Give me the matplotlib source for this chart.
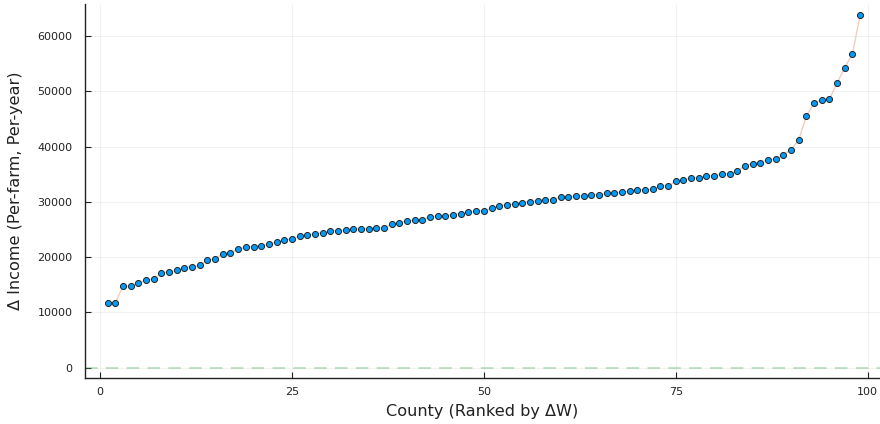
import numpy as np
import matplotlib
matplotlib.use("Agg")
import matplotlib.pyplot as plt

# income change per county, sorted ascending
rank = np.arange(1, 100)
delta_income = [
    11700, 11750, 14700, 14800, 15400, 15900, 16000, 17100, 17350, 17650,
    18100, 18300, 18550, 19450, 19600, 20650, 20800, 21450, 21800, 21870,
    22100, 22350, 22700, 23100, 23350, 23850, 24030, 24150, 24450, 24750,
    24810, 24870, 25050, 25110, 25170, 25230, 25290, 25950, 26260, 26500,
    26680, 26800, 27340, 27400, 27460, 27700, 27880, 28200, 28300, 28420,
    28850, 29270, 29500, 29570, 29870, 30050, 30170, 30350, 30410, 30900,
    30950, 31020, 31080, 31260, 31310, 31560, 31670, 31740, 31920, 32100,
    32160, 32280, 32830, 32880, 33700, 33970, 34330, 34390, 34630, 34750,
    34990, 35050, 35530, 36550, 36910, 37100, 37640, 37700, 38540, 39390,
    41130, 45470, 47820, 48420, 48540, 51490, 54260, 56730, 63720,
]
xticks = [0, 25, 50, 75, 100]
yticks = [0, 10000, 20000, 30000, 40000, 50000, 60000]

fig = plt.figure(figsize=(8.8, 4.24), dpi=100)
ax = fig.add_axes([85 / 880, 1 - 378 / 424, 795 / 880, 374 / 424])

ax.plot(rank, delta_income, color="#e26f46", alpha=0.35, lw=1, zorder=2)
ax.scatter(rank, delta_income, s=19, color="#009af9", edgecolors="#222222",
           linewidths=0.7, zorder=3)
ax.axhline(0, color="#3da44d", ls=(0, (6, 4)), lw=1.5, alpha=0.3, zorder=1)

ax.set_xlim(-1.95, 101.6)
ax.set_ylim(-1860, 65780)
ax.set_xticks(xticks)
ax.set_yticks(yticks)
ax.grid(True, color="#000000", alpha=0.05, lw=0.8)
ax.set_axisbelow(True)
ax.tick_params(direction="in", length=4, width=0.8, labelsize=8,
               labelcolor="#222222", color="#222222")
ax.tick_params(axis="y", pad=9)
ax.tick_params(axis="x", pad=6.5)
for side in ["top", "right"]:
    ax.spines[side].set_visible(False)
for side in ["left", "bottom"]:
    ax.spines[side].set_linewidth(1)
    ax.spines[side].set_color("#222222")

ax.set_xlabel("County (Ranked by ΔW)", fontsize=11.6, color="#222222")
ax.set_ylabel("Δ Income (Per-farm, Per-year)", fontsize=11.6, color="#222222")
ax.xaxis.set_label_coords(0.5, -0.0695)
ax.yaxis.set_label_coords(-0.078, 0.5)

fig.savefig("out.png", dpi=100)
